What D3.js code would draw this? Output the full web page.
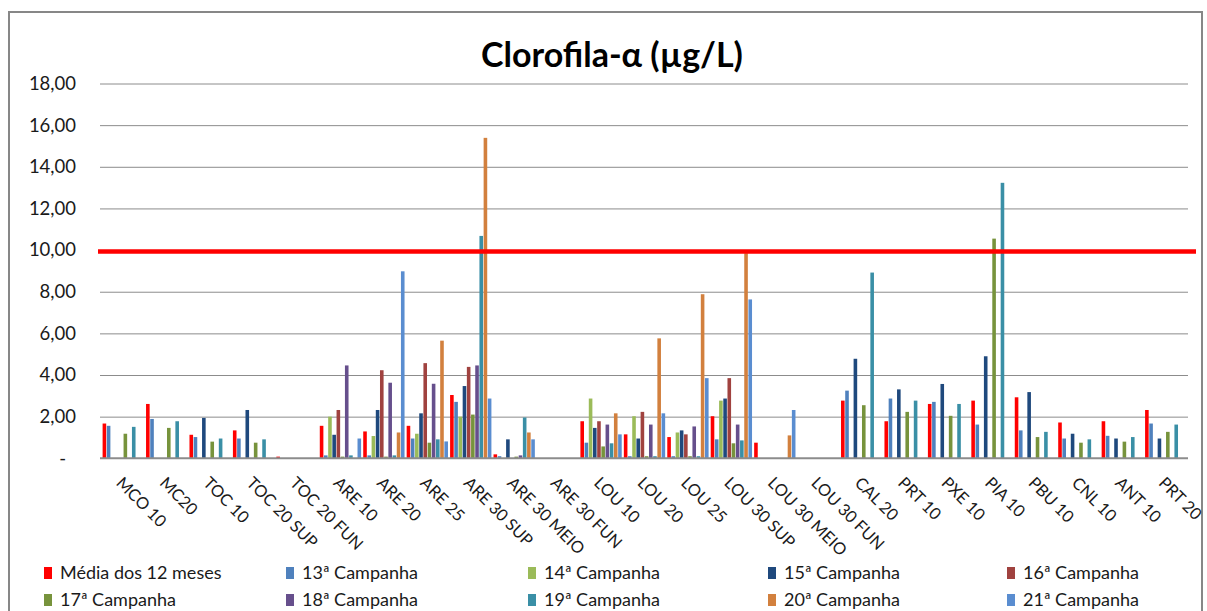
<!DOCTYPE html>
<html lang="pt">
<head>
  <meta charset="UTF-8" />
  <title>Clorofila-α (µg/L)</title>
  <script src="https://d3js.org/d3.v7.min.js"></script>
  <style>
    body {
      margin: 0;
      background: #ffffff;
      font-family: "Lato", "Open Sans", sans-serif;
    }
    .grid line {
      stroke: #8c8c8c;
      stroke-width: 1px;
    }
    .grid text {
      font-size: 18.5px;
      fill: #1a1a1a;
    }
    .cat-label {
      font-size: 16.5px;
      fill: #1a1a1a;
    }
    .legend text {
      font-size: 18px;
      fill: #1a1a1a;
    }
  </style>
</head>
<body>
  <div id="chart"></div>

  <script>
    // categorias (estações)
    const categories = [
      "MCO 10", "MC20", "TOC 10", "TOC 20 SUP", "TOC 20 FUN",
      "ARE 10", "ARE 20", "ARE 25", "ARE 30 SUP", "ARE 30 MEIO", "ARE 30 FUN",
      "LOU 10", "LOU 20", "LOU 25", "LOU 30 SUP", "LOU 30 MEIO", "LOU 30 FUN",
      "CAL 20", "PRT 10", "PXE 10", "PIA 10", "PBU 10", "CNL 10", "ANT 10", "PRT 20"
    ];

    const seriesNames = [
      "Média dos 12 meses", "13ª Campanha", "14ª Campanha", "15ª Campanha", "16ª Campanha",
      "17ª Campanha", "18ª Campanha", "19ª Campanha", "20ª Campanha", "21ª Campanha"
    ];

    const seriesColors = [
      "#ff0000", "#4f81bd", "#9bbb59", "#1f497d", "#a0423f",
      "#77933c", "#664f8c", "#3a8fa6", "#d2803e", "#5a8dd0"
    ];

    // valores por série (null = sem dado)
    const media = [1.67, 2.61, 1.13, 1.34, 0.08, 1.56, 1.29, 1.56, 3.04, 0.19, null,
      1.78, 1.15, 1.02, 2.02, 0.75, null, 2.77, 1.78, 2.61, 2.77, 2.93, 1.72, 1.78, 2.32];
    const camp13 = [1.56, 1.89, 1.02, 0.95, null, 0.14, 0.14, 0.95, 2.71, 0.10, null,
      0.75, 0.10, 0.10, 0.91, null, null, 3.25, 2.87, 2.71, 1.62, 1.34, 0.95, 1.08, 1.67];
    const camp14 = [null, null, null, null, null, 2.00, 1.07, 1.18, 2.00, null, null,
      2.87, 2.02, 1.24, 2.77, null, null, null, null, null, null, null, null, null, null];
    const camp15 = [null, null, 1.94, 2.32, null, 1.13, 2.32, 2.16, 3.47, 0.91, null,
      1.46, 0.95, 1.34, 2.87, null, null, 4.78, 3.31, 3.57, 4.90, 3.18, 1.18, 0.95, 0.95];
    const camp16 = [null, null, null, null, null, 2.32, 4.23, 4.57, 4.39, null, null,
      1.78, 2.23, 1.15, 3.85, null, null, null, null, null, null, null, null, null, null];
    const camp17 = [1.18, 1.46, 0.80, 0.75, null, 0.08, 0.08, 0.75, 2.10, 0.08, null,
      0.57, 0.10, 0.10, 0.72, null, null, 2.55, 2.23, 2.04, 10.55, 1.02, 0.75, 0.80, 1.27];
    const camp18 = [null, null, null, null, null, 4.46, 3.63, 3.58, 4.46, 0.14, null,
      1.62, 1.62, 1.53, 1.62, null, null, null, null, null, null, null, null, null, null];
    const camp19 = [1.51, 1.78, 0.95, 0.91, null, 0.14, 0.14, 0.91, 10.68, 1.96, null,
      0.72, 0.10, 0.10, 0.86, null, null, 8.92, 2.77, 2.61, 13.23, 1.27, 0.91, 1.02, 1.62];
    const camp20 = [null, null, null, null, null, null, 1.24, 5.65, 15.39, 1.24, null,
      2.16, 5.76, 7.88, 9.85, 1.10, null, null, null, null, null, null, null, null, null];
    const camp21 = [null, null, null, null, null, 0.95, 8.98, 0.81, 2.87, 0.91, null,
      1.15, 2.16, 3.85, 7.63, 2.32, null, null, null, null, null, null, null, null, null];

    const seriesValues = [media, camp13, camp14, camp15, camp16, camp17, camp18, camp19, camp20, camp21];

    const yTicks = [0, 2, 4, 6, 8, 10, 12, 14, 16, 18];
    const limite = 10;

    const W = 1207, H = 611;
    const plot = { left: 101, right: 1188, top: 83.5, bottom: 458.3 };

    const svg = d3.select("#chart").append("svg")
      .attr("width", W)
      .attr("height", H);

    svg.append("rect")
      .attr("width", W).attr("height", H)
      .attr("fill", "#fff");

    // moldura do gráfico
    svg.append("rect")
      .attr("x", 9).attr("y", 12)
      .attr("width", 1193).attr("height", 640)
      .attr("fill", "none")
      .attr("stroke", "#878787")
      .attr("stroke-width", 2);

    const x0 = d3.scaleBand()
      .domain(categories)
      .range([plot.left, plot.right])
      .paddingInner(0.035)
      .paddingOuter(0.03);

    const x1 = d3.scaleBand()
      .domain(d3.range(seriesNames.length))
      .range([0, x0.bandwidth()]);

    const y = d3.scaleLinear()
      .domain([0, 18])
      .range([plot.bottom, plot.top]);

    // grade + rótulos do eixo y
    const fmt = d => d === 0 ? "-" : d3.format(".2f")(d).replace(".", ",");
    const gy = svg.append("g")
      .attr("class", "grid")
      .attr("transform", `translate(100,0)`)
      .call(d3.axisLeft(y)
        .tickValues(yTicks)
        .tickSize(-(plot.right - 100))
        .tickPadding(24)
        .tickFormat(fmt));
    gy.select(".domain").remove();
    gy.selectAll(".tick text")
      .attr("font-family", "Lato, sans-serif")
      .attr("x", d => d === 0 ? -34 : -24);
    gy.selectAll(".tick").filter(d => d === 0).select("line").remove();

    // barras
    const groups = svg.append("g")
      .selectAll("g")
      .data(categories)
      .join("g")
      .attr("transform", d => `translate(${x0(d)},0)`);

    groups.selectAll("rect")
      .data((c, ci) => seriesValues.map((vals, si) => ({ si, v: vals[ci] })).filter(d => d.v != null))
      .join("rect")
      .attr("x", d => x1(d.si) + 0.3)
      .attr("width", x1.bandwidth() - 0.6)
      .attr("y", d => y(d.v))
      .attr("height", d => y(0) - y(d.v))
      .attr("fill", d => seriesColors[d.si]);

    // linha de base
    svg.append("line")
      .attr("x1", 100).attr("x2", plot.right)
      .attr("y1", y(0)).attr("y2", y(0))
      .attr("stroke", "#8c8c8c")
      .attr("stroke-width", 2);

    // limite 10 µg/L
    svg.append("line")
      .attr("x1", 98).attr("x2", 1196)
      .attr("y1", y(limite) + 1.5).attr("y2", y(limite) + 1.5)
      .attr("stroke", "#ff0000")
      .attr("stroke-width", 4.5);

    // rótulos das categorias
    svg.append("g")
      .selectAll("text")
      .data(categories)
      .join("text")
      .attr("class", "cat-label")
      .attr("transform", d => `translate(${x0(d) + x0.bandwidth() / 2 - 8},484) rotate(45)`)
      .text(d => d);

    // título
    svg.append("text")
      .attr("x", 612).attr("y", 67)
      .attr("text-anchor", "middle")
      .attr("font-size", 34)
      .attr("font-weight", "bold")
      .attr("fill", "#000")
      .text("Clorofila-α (µg/L)");

    // legenda
    const legendCols = [44, 286, 528, 768, 1007];
    const legend = svg.append("g")
      .attr("class", "legend")
      .selectAll("g")
      .data(seriesNames)
      .join("g")
      .attr("transform", (d, i) => `translate(${legendCols[i % 5]},${i < 5 ? 573 : 600})`);

    legend.append("rect")
      .attr("x", 0).attr("y", -6)
      .attr("width", 8).attr("height", 12)
      .attr("fill", (d, i) => seriesColors[i]);

    legend.append("text")
      .attr("x", 16).attr("y", 6)
      .text(d => d);
  </script>
</body>
</html>
